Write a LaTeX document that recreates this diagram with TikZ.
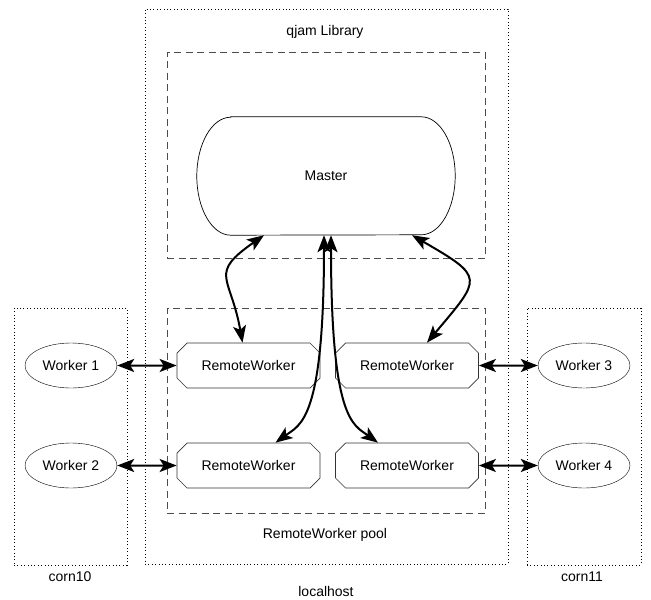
\documentclass[tikz,border=0pt]{standalone}
\usepackage{fontspec}
\setmainfont{Liberation Sans}
\usetikzlibrary{arrows.meta,shapes.misc,shapes.geometric}

\begin{document}
\begin{tikzpicture}[x=1pt,y=1pt,font=\fontsize{14}{16}\selectfont,
    host box/.style={draw,line width=0.9pt,dash pattern=on 1pt off 2.4pt},
    group box/.style={draw,black!70,line width=0.9pt,dash pattern=on 7pt off 4.5pt},
    worker node/.style={ellipse,draw,minimum width=92pt,minimum height=45pt,inner sep=0pt},
    remote node/.style={chamfered rectangle,draw,black!80,text=black,line width=0.7pt,chamfered rectangle xsep=5pt,chamfered rectangle ysep=5pt,minimum width=143pt,minimum height=45pt,inner sep=0pt},
    master node/.style={minimum width=258pt,minimum height=118pt,inner sep=0pt},
    link/.style={<->,>={Stealth[length=17pt,width=13pt,inset=4pt]},line width=2pt}]

  \useasboundingbox (0,0) rectangle (651,-600);

  % hosts
  \node[host box,minimum width=363pt,minimum height=555pt] (localhost) at (326.5,-286.5) {};
  \node[host box,minimum width=113pt,minimum height=257pt] (corn10) at (70.5,-436.5) {};
  \node[host box,minimum width=114pt,minimum height=257pt] (corn11) at (584,-436.5) {};
  \node (localhostlabel) at (326,-591) {localhost};
  \node (corn10label) at (70,-577) {corn10};
  \node (corn11label) at (582,-577) {corn11};

  % library and pool
  \node[group box,minimum width=318pt,minimum height=206pt] (library) at (326,-155) {};
  \node[group box,minimum width=318pt,minimum height=205pt] (pool) at (326,-410.5) {};
  \node (librarylabel) at (325,-32) {qjam Library};
  \node (poollabel) at (325,-535) {RemoteWorker pool};

  \node[master node] (master) at (326,-176) {Master};
  \draw[line width=0.7pt] ([xshift=34pt]master.north west) -- ([xshift=-34pt]master.north east)
    arc[start angle=90,end angle=-90,x radius=34pt,y radius=59pt]
    -- ([xshift=34pt]master.south west)
    arc[start angle=270,end angle=90,x radius=34pt,y radius=59pt] -- cycle;

  \node[remote node] (rw1) at (248.5,-365.5) {RemoteWorker};
  \node[remote node] (rw2) at (407,-365.5) {RemoteWorker};
  \node[remote node] (rw3) at (248.5,-465.5) {RemoteWorker};
  \node[remote node] (rw4) at (407,-465.5) {RemoteWorker};

  \node[worker node] (w1) at (71,-365.5) {Worker 1};
  \node[worker node] (w2) at (71,-465.5) {Worker 2};
  \node[worker node] (w3) at (584,-365.5) {Worker 3};
  \node[worker node] (w4) at (584,-465.5) {Worker 4};

  \draw[link] (w1) -- (rw1);
  \draw[link] (w2) -- (rw3);
  \draw[link] (w3) -- (rw2);
  \draw[link] (w4) -- (rw4);

  \draw[link] ([xshift=-62pt]master.south) to[out=-145,in=100,looseness=1.6] ([xshift=-6pt]rw1.north);
  \draw[link] ([xshift=86pt]master.south) to[out=-30,in=50,looseness=2] ([xshift=20pt]rw2.north);
  \draw[link] ([xshift=-2pt]master.south) .. controls +(0,-185) and +(25,18) .. ([xshift=27pt]rw3.north);
  \draw[link] ([xshift=5pt]master.south) .. controls +(0,-185) and +(-25,18) .. ([xshift=-29pt]rw4.north);

\end{tikzpicture}
\end{document}
